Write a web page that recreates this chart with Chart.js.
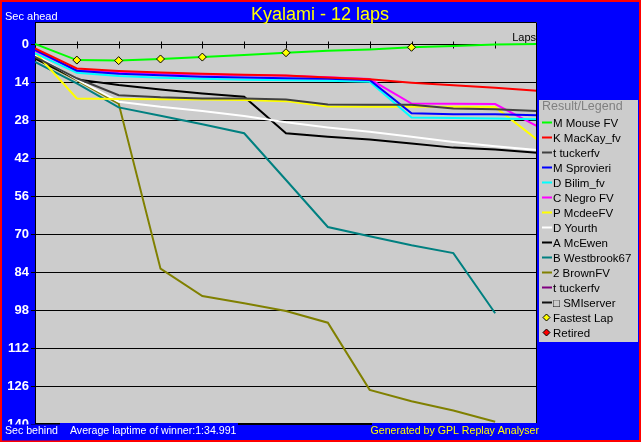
<!DOCTYPE html>
<html>
<head>
<meta charset="utf-8">
<script src="https://cdn.jsdelivr.net/npm/chart.js@4.4.1/dist/chart.umd.min.js"></script>
<style>
  html, body { margin: 0; padding: 0; background: #0000ff; }
  canvas { display: block; }
</style>
</head>
<body>
<canvas id="chart" width="641" height="442"></canvas>
<script>
const laps = [0, 1, 2, 3, 4, 5, 6, 7, 8, 9, 10, 11, 12];
const yTicks = [0, 14, 28, 42, 56, 70, 84, 98, 112, 126, 140];

// seconds behind the winner's average pace, per lap
const mouse     = [0, 5.9, 6.1, 5.5, 4.8, 4.0, 3.2, 2.5, 2.0, 1.2, 0.7, 0.2, 0];
const mackay    = [1.6, 9.0, 9.9, 10.5, 10.9, 11.3, 11.6, 12.3, 13.0, 14.2, 15.2, 16.1, 17.2];
const tucker    = [4.7, 12.6, 18.8, 19.6, 20.0, 20.0, 20.4, 22.2, 22.3, 22.3, 23.7, 24.0, 24.6];
const sprovieri = [2.2, 9.8, 10.9, 11.5, 12.0, 12.3, 12.6, 12.8, 13.2, 25.5, 25.8, 25.8, 26.2];
const bilim     = [3.4, 10.6, 11.8, 12.4, 12.8, 13.1, 13.3, 13.5, 13.9, 27.0, 27.2, 27.4, 27.7];
const negro     = [2.5, 9.6, 10.4, 10.9, 11.2, 11.5, 11.7, 12.2, 12.9, 21.9, 22.0, 22.1, 30.2];
const mcdee     = [3.0, 20.0, 20.2, 20.3, 20.4, 20.6, 21.0, 23.0, 23.1, 23.1, 23.1, 23.2, 35.1];
const yourth    = [4.0, 13.0, 21.2, 23.1, 24.6, 26.5, 28.8, 30.7, 32.3, 34.1, 36.0, 37.6, 39.0];
const mcewen    = [5.3, 13.0, 15.1, 16.7, 18.2, 19.4, 32.8, 34.1, 35.1, 36.6, 38.1, 38.8, 40.0];
const westbrook = [6.6, 14.5, 23.3, 26.4, 29.5, 32.8, 50.0, 67.3, 70.7, 74.0, 76.9, 99.0];
const brown     = [5.3, 13.3, 21.9, 82.6, 92.7, 95.3, 98.2, 102.5, 127.2, 131.4, 134.8, 138.9];
const tucker2   = [];
const smiserver = [];

const drivers = ['M Mouse FV', 'K MacKay_fv', 't tuckerfv', 'M Sprovieri', 'D Bilim_fv', 'C Negro FV',
                 'P McdeeFV', 'D Yourth', 'A McEwen', 'B Westbrook67', '2 BrownFV', 't tuckerfv', '\u25a1 SMIserver'];
const colors = ['#00ff00', '#ff0000', '#404040', '#0000ff', '#00ffff', '#ff00ff',
                '#ffff00', '#ffffff', '#000000', '#008080', '#808000', '#800080', '#101010'];
const series = [mouse, mackay, tucker, sprovieri, bilim, negro, mcdee, yourth, mcewen, westbrook, brown, tucker2, smiserver];

const fastestLaps = [1, 2, 3, 4, 6, 9];
const retired = [];

const FONT = '"Liberation Sans", Arial, sans-serif';

function toPoints(values) {
    return values.map((v, i) => ({ x: laps[i], y: v }));
}

const datasets = series.map((s, i) => ({
    label: drivers[i],
    data: toPoints(s),
    borderColor: colors[i],
    backgroundColor: colors[i],
    borderWidth: 2,
    pointRadius: 0,
    tension: 0
}));

datasets.push({
    label: 'Fastest Lap',
    data: fastestLaps.map(l => ({ x: l, y: mouse[l] })),
    showLine: false,
    pointStyle: 'rectRot',
    pointRadius: 4,
    backgroundColor: '#ffff00',
    borderColor: '#000000',
    borderWidth: 1,
    order: -1
});
datasets.push({
    label: 'Retired',
    data: retired,
    showLine: false,
    pointStyle: 'rectRot',
    pointRadius: 4,
    backgroundColor: '#ff0000',
    borderColor: '#000000',
    borderWidth: 1,
    order: -1
});

const frame = {
    id: 'frame',
    beforeDraw(chart) {
        const { ctx, chartArea: a } = chart;
        ctx.save();
        ctx.fillStyle = '#ff0000';
        ctx.fillRect(0, 0, chart.width, chart.height);
        ctx.fillStyle = '#0000ff';
        ctx.fillRect(2, 2, chart.width - 4, chart.height - 4);
        ctx.fillStyle = '#cccccc';
        ctx.fillRect(a.left, a.top, a.right - a.left, a.bottom - a.top);
        ctx.restore();
    },
    beforeDatasetsDraw(chart) {
        // lap ticks on the zero line
        const { ctx, scales } = chart;
        const y0 = Math.round(scales.y.getPixelForValue(0)) + 0.5;
        ctx.save();
        ctx.strokeStyle = '#000000';
        ctx.lineWidth = 1;
        laps.slice(1, -1).forEach(l => {
            const x = Math.round(scales.x.getPixelForValue(l)) + 0.5;
            ctx.beginPath();
            ctx.moveTo(x, y0 - 3);
            ctx.lineTo(x, y0 + 4);
            ctx.stroke();
        });
        ctx.restore();
    },
    afterDatasetsDraw(chart) {
        const { ctx, chartArea: a } = chart;
        ctx.save();
        ctx.strokeStyle = '#000000';
        ctx.lineWidth = 1;
        ctx.beginPath();
        ctx.moveTo(a.left + 0.5, a.top + 0.5);
        ctx.lineTo(a.right - 0.5, a.top + 0.5);
        ctx.lineTo(a.right - 0.5, 423.5);
        ctx.lineTo(a.left + 0.5, 423.5);
        ctx.stroke();
        ctx.fillStyle = '#000000';
        ctx.font = '11px ' + FONT;
        ctx.textAlign = 'right';
        ctx.fillText('Laps', a.right - 1, 41);
        ctx.restore();
    },
    afterDraw(chart) {
        const ctx = chart.ctx;
        ctx.save();
        // footer bands
        ctx.fillStyle = '#0000ff';
        ctx.fillRect(2, 424.5, 58, 16);
        ctx.fillRect(60, 423, 178, 17);
        ctx.fillRect(372, 423, 167, 17);

        ctx.textBaseline = 'alphabetic';
        ctx.font = '18px ' + FONT;
        ctx.fillStyle = '#ffff00';
        ctx.textAlign = 'center';
        ctx.fillText('Kyalami - 12 laps', 320, 20);

        ctx.textAlign = 'left';
        ctx.fillStyle = '#ffffff';
        ctx.font = '11px ' + FONT;
        ctx.fillText('Sec ahead', 5, 19.5);
        ctx.font = '10.6px ' + FONT;
        ctx.fillText('Sec behind', 5, 434);
        ctx.fillText('Average laptime of winner:1:34.991', 70, 434);
        ctx.fillStyle = '#ffff00';
        ctx.textAlign = 'right';
        ctx.fillText('Generated by GPL Replay Analyser', 539, 434);

        // legend box
        ctx.fillStyle = '#cccccc';
        ctx.fillRect(539, 100, 99, 242);
        ctx.textAlign = 'left';
        ctx.font = '12.5px ' + FONT;
        ctx.fillStyle = '#808080';
        ctx.fillText('Result/Legend', 542, 109.5);
        ctx.font = '11.5px ' + FONT;
        chart.data.datasets.forEach((ds, i) => {
            const yc = 122.5 + i * 15;
            if (ds.showLine === false) {
                ctx.beginPath();
                ctx.moveTo(546.5, yc - 3.5);
                ctx.lineTo(550, yc);
                ctx.lineTo(546.5, yc + 3.5);
                ctx.lineTo(543, yc);
                ctx.closePath();
                ctx.fillStyle = ds.backgroundColor;
                ctx.fill();
                ctx.strokeStyle = '#000000';
                ctx.lineWidth = 1;
                ctx.stroke();
            } else {
                ctx.strokeStyle = ds.borderColor;
                ctx.lineWidth = 2;
                ctx.beginPath();
                ctx.moveTo(542, yc);
                ctx.lineTo(552, yc);
                ctx.stroke();
            }
            ctx.fillStyle = '#000000';
            ctx.fillText(ds.label, 553, yc + 4);
        });
        ctx.restore();
    }
};

new Chart(document.getElementById('chart'), {
    type: 'line',
    data: { datasets },
    options: {
        responsive: false,
        animation: false,
        events: [],
        layout: { padding: { top: 22, right: 104, bottom: 17.3, left: 0 } },
        plugins: {
            legend: { display: false },
            tooltip: { enabled: false },
            title: { display: false }
        },
        scales: {
            x: {
                type: 'linear',
                min: 0,
                max: 12,
                display: false
            },
            y: {
                type: 'linear',
                reverse: true,
                min: -8.1,
                max: 140,
                afterFit: s => { s.width = 35; },
                afterBuildTicks: s => { s.ticks = yTicks.map(v => ({ value: v })); },
                border: { display: true, color: '#000000', width: 1 },
                grid: { color: '#000000', tickColor: '#000000', tickLength: 4, lineWidth: 1 },
                ticks: {
                    color: '#ffffff',
                    padding: 2,
                    font: { family: FONT, size: 13, weight: 'bold' }
                }
            }
        }
    },
    plugins: [frame]
});
</script>
</body>
</html>
